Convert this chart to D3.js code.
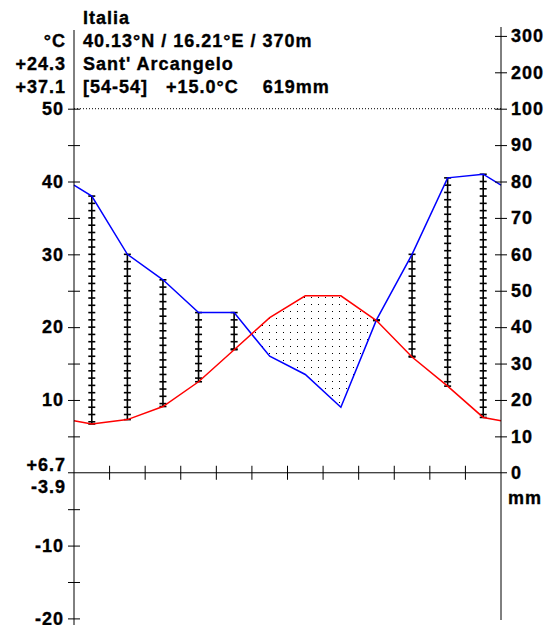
<!DOCTYPE html>
<html>
<head>
<meta charset="utf-8">
<script src="https://cdn.jsdelivr.net/npm/d3@7"></script>
<style>
  body { margin: 0; background: #fff; }
  text { font-family: "Liberation Sans", Arial, sans-serif; font-weight: bold; font-size: 18px; letter-spacing: 1px; white-space: pre; fill: #000; stroke: #000; stroke-width: 0.35px; }
</style>
</head>
<body>
<div id="vis"></div>
<script>
// climate data, Sant' Arcangelo
const months = ["Jan", "Feb", "Mar", "Apr", "May", "Jun", "Jul", "Aug", "Sep", "Oct", "Nov", "Dec"];
const temp = [6.7, 7.3, 9.1, 12.5, 16.9, 21.3, 24.3, 24.3, 20.9, 15.9, 11.9, 7.6];
const prec = [76, 60, 53, 44, 44, 32, 27, 18, 42, 60, 81, 82];
const headLines = ["Italia", "40.13°N / 16.21°E / 370m", "Sant' Arcangelo", "[54-54]   +15.0°C    619mm"];
const leftHead = ["°C", "+24.3", "+37.1"];
const leftFoot = ["+6.7", "-3.9"];
const tempTicks = [-20, -10, 10, 20, 30, 40, 50];
const tempMinor = [-15, -5, 5, 15, 25, 35, 45];
const precTicks = [10, 20, 30, 40, 50, 60, 70, 80, 90, 100, 200, 300];

const W = 547, H = 625;
const svg = d3.select("#vis").append("svg")
    .attr("width", W)
    .attr("height", H);

const x = d3.scaleLinear().domain([0, 12]).range([74, 501]);
const yT = d3.scaleLinear().domain([-20, 50]).range([618.4, 108.7]);
const yP = d3.scaleLinear().domain([0, 100, 300]).range([yT(0), yT(50), yT(50) - 72.8]);

// curve points, wrapped at the edges
function curvePts(vals, scale) {
    const edge = (vals[0] + vals[11]) / 2;
    const pts = [[x(0), scale(edge)]];
    vals.forEach((v, i) => pts.push([x(i + 0.5), scale(v)]));
    pts.push([x(12), scale(edge)]);
    return pts;
}
const tPts = curvePts(temp, v => yT(v));
const pPts = curvePts(prec, v => yP(v));

// dot pattern for the dry period
const defs = svg.append("defs");
defs.append("pattern")
    .attr("id", "dots")
    .attr("patternUnits", "userSpaceOnUse")
    .attr("width", 7).attr("height", 7)
    .append("rect")
    .attr("x", 3).attr("y", 3).attr("width", 1).attr("height", 1)
    .attr("fill", "#000");

defs.append("clipPath").attr("id", "abovePrec")
    .append("path")
    .attr("d", d3.area().x(d => d[0]).y0(0).y1(d => d[1])(pPts));

svg.append("path")
    .attr("d", d3.area().x(d => d[0]).y0(H).y1(d => d[1])(tPts))
    .attr("fill", "url(#dots)")
    .attr("clip-path", "url(#abovePrec)");

// dotted 100 mm line
svg.append("line")
    .attr("x1", x(0)).attr("x2", x(12))
    .attr("y1", yT(50)).attr("y2", yT(50))
    .attr("stroke", "#000").attr("stroke-width", 1)
    .attr("stroke-dasharray", "1,2");

// humid months: hatched bars
const step = yT(0) - yT(1);
months.forEach((m, i) => {
    const top = yP(prec[i]), bot = yT(temp[i]);
    if (top >= bot) return;
    const cx = x(i + 0.5);
    const g = svg.append("g").attr("stroke", "#000").attr("stroke-width", 1.6);
    g.append("line").attr("x1", cx).attr("x2", cx).attr("y1", top).attr("y2", bot);
    const ys = d3.range(top, bot, step);
    ys.push(bot);
    g.selectAll("line.t").data(ys).enter().append("line")
        .attr("class", "t")
        .attr("x1", cx - 3.5).attr("x2", cx + 3.5)
        .attr("y1", d => d).attr("y2", d => d);
});

// lines
const line = d3.line();
svg.append("path").attr("d", line(pPts))
    .attr("fill", "none").attr("stroke", "#0000ff").attr("stroke-width", 1.5);
svg.append("path").attr("d", line(tPts))
    .attr("fill", "none").attr("stroke", "#ff0000").attr("stroke-width", 1.5);

const fmt = d => String(d);

// left axis (ticks on both sides)
const leftG = svg.append("g").attr("transform", `translate(${x(0)},0)`);
leftG.call(d3.axisLeft(yT).tickValues(tempTicks).tickSize(6).tickPadding(4).tickFormat(fmt));
leftG.append("g").call(d3.axisRight(yT).tickValues(tempTicks.concat(tempMinor)).tickSize(6).tickFormat(""));
leftG.append("g").call(d3.axisLeft(yT).tickValues(tempMinor).tickSize(6).tickFormat(""));
leftG.selectAll(".domain").remove();
leftG.append("line").attr("x1", 0).attr("x2", 0).attr("y1", 30).attr("y2", H).attr("stroke", "#000");

// right axis
const rightG = svg.append("g").attr("transform", `translate(${x(12)},0)`);
rightG.call(d3.axisRight(yP).tickValues(precTicks).tickSize(6).tickPadding(4).tickFormat(fmt));
rightG.append("g").call(d3.axisLeft(yP).tickValues(precTicks).tickSize(6).tickFormat(""));
rightG.selectAll(".domain").remove();
rightG.append("line").attr("x1", 0).attr("x2", 0).attr("y1", 27).attr("y2", 620).attr("stroke", "#000");
rightG.append("text").attr("x", 10).attr("y", yP(0)).attr("dy", "0.32em").text("0");

svg.selectAll(".tick text")
    .attr("font-family", null).attr("font-size", null)
    .attr("fill", "#000");
svg.selectAll(".tick line").attr("stroke", "#000");

// zero line with month ticks
const y0 = yT(0);
svg.append("line").attr("x1", x(0) - 6).attr("x2", x(12) + 6)
    .attr("y1", y0).attr("y2", y0).attr("stroke", "#000");
svg.selectAll("line.mt").data(d3.range(1, 12)).enter().append("line")
    .attr("class", "mt")
    .attr("x1", d => x(d)).attr("x2", d => x(d))
    .attr("y1", y0 - 7).attr("y2", y0 + 7)
    .attr("stroke", "#000");

// header texts
svg.selectAll("text.head").data(headLines).enter().append("text")
    .attr("class", "head")
    .attr("x", 83).attr("y", (d, i) => 24 + i * 23)
    .text(d => d);
svg.selectAll("text.lh").data(leftHead).enter().append("text")
    .attr("class", "lh")
    .attr("x", 66).attr("y", (d, i) => 47 + i * 23)
    .attr("text-anchor", "end")
    .text(d => d);
svg.selectAll("text.lf").data(leftFoot).enter().append("text")
    .attr("class", "lf")
    .attr("x", 66).attr("y", (d, i) => y0 - 2 + i * 22)
    .attr("text-anchor", "end")
    .text(d => d);
svg.append("text").attr("x", 508).attr("y", y0 + 31).text("mm");
</script>
</body>
</html>
